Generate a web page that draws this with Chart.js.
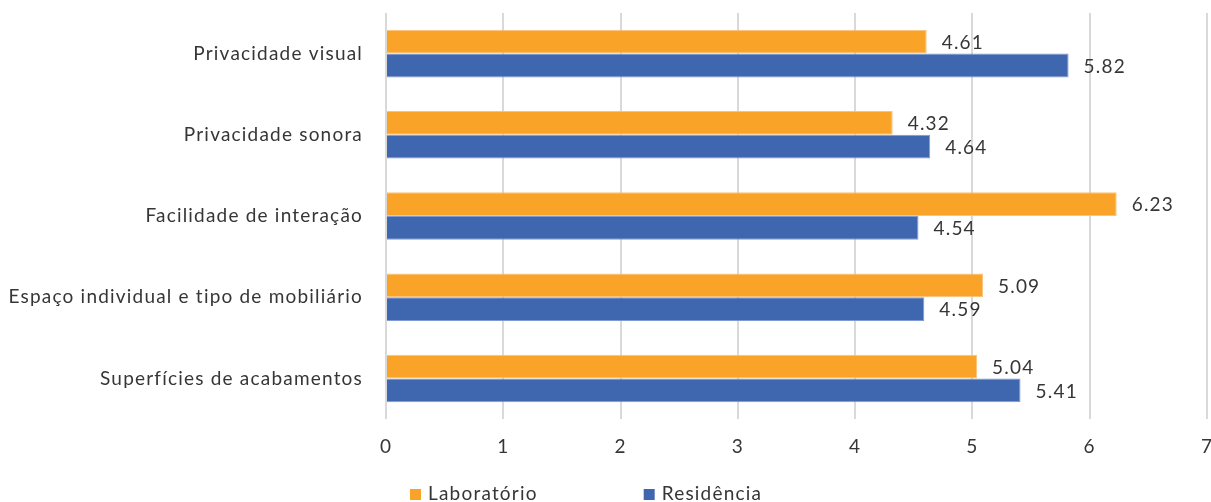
<!DOCTYPE html>
<html lang="pt">
<head>
<meta charset="utf-8">
<title>Avaliação por ambiente</title>
<script src="https://cdn.jsdelivr.net/npm/chart.js@4/dist/chart.umd.min.js"></script>
<style>
  html, body { margin: 0; padding: 0; background: #ffffff; overflow: hidden; }
  #wrap { position: relative; width: 1211px; height: 502px; }
</style>
</head>
<body>
<div id="wrap"><canvas id="chart"></canvas></div>
<script>
// Categories, top to bottom
const categories = [
  'Privacidade visual',
  'Privacidade sonora',
  'Facilidade de interação',
  'Espaço individual e tipo de mobiliário',
  'Superfícies de acabamentos'
];
// Mean scores per environment
const laboratorio = [4.61, 4.32, 6.23, 5.09, 5.04];
const residencia  = [5.82, 4.64, 4.54, 4.59, 5.41];
// Value axis ticks
const xTicks = [0, 1, 2, 3, 4, 5, 6, 7];

const FONT = 'Lato, "Open Sans", sans-serif';
const TEXT = '#363636';
const TRACKING = '1.2px';

// Slightly open letter spacing for every text drawn on the canvas
const tracking = {
  id: 'tracking',
  beforeUpdate(chart) { chart.ctx.letterSpacing = TRACKING; },
  beforeDraw(chart) { chart.ctx.letterSpacing = TRACKING; }
};

// Writes each bar's value just past its end
const valueLabels = {
  id: 'valueLabels',
  afterDatasetsDraw(chart) {
    const ctx = chart.ctx;
    ctx.save();
    ctx.font = '19px ' + FONT;
    ctx.letterSpacing = TRACKING;
    ctx.fillStyle = TEXT;
    ctx.textAlign = 'left';
    ctx.textBaseline = 'middle';
    chart.data.datasets.forEach((ds, i) => {
      chart.getDatasetMeta(i).data.forEach((bar, j) => {
        ctx.fillText(ds.data[j].toFixed(2), bar.x + 15, bar.y + 1);
      });
    });
    ctx.restore();
  }
};

// Legend row under the axis, with wide spacing between entries
const bottomLegend = {
  id: 'bottomLegend',
  afterDraw(chart) {
    const ctx = chart.ctx;
    ctx.save();
    ctx.font = '19px ' + FONT;
    ctx.letterSpacing = TRACKING;
    ctx.textAlign = 'left';
    ctx.textBaseline = 'middle';
    let x = 410;
    const y = 494;
    chart.data.datasets.forEach(ds => {
      ctx.fillStyle = ds.backgroundColor;
      ctx.fillRect(x, y - 5, 11, 11);
      ctx.fillStyle = TEXT;
      ctx.fillText(ds.label, x + 18, y);
      x += 18 + ctx.measureText(ds.label).width + 106;
    });
    ctx.restore();
  }
};

new Chart(document.getElementById('chart'), {
  type: 'bar',
  data: {
    labels: categories,
    datasets: [
      {
        label: 'Laboratório',
        data: laboratorio,
        backgroundColor: '#F9A328',
        borderColor: '#FBC27A',
        borderWidth: 1
      },
      {
        label: 'Residência',
        data: residencia,
        backgroundColor: '#3F67B0',
        borderColor: '#7F9AD0',
        borderWidth: 1
      }
    ]
  },
  options: {
    indexAxis: 'y',
    responsive: true,
    maintainAspectRatio: false,
    animation: false,
    datasets: { bar: { categoryPercentage: 0.585, barPercentage: 1 } },
    layout: { padding: { top: 13, bottom: 28, left: 0, right: 0 } },
    plugins: {
      legend: { display: false },
      tooltip: { enabled: false }
    },
    scales: {
      x: {
        min: xTicks[0],
        max: xTicks[xTicks.length - 1],
        afterBuildTicks(scale) { scale.ticks = xTicks.map(v => ({ value: v })); },
        afterFit(scale) { scale.paddingLeft = 0; scale.paddingRight = 4; },
        grid: { color: '#d9d9d9', lineWidth: 2, drawTicks: false },
        border: { display: false },
        ticks: { padding: 16, color: TEXT, font: { family: FONT, size: 19 } }
      },
      y: {
        afterFit(scale) { scale.width = 386; scale.paddingTop = 0; scale.paddingBottom = 0; },
        grid: { display: false, drawTicks: false },
        border: { display: false },
        ticks: { padding: 23, color: TEXT, font: { family: FONT, size: 19 } }
      }
    }
  },
  plugins: [tracking, valueLabels, bottomLegend]
});
</script>
</body>
</html>
